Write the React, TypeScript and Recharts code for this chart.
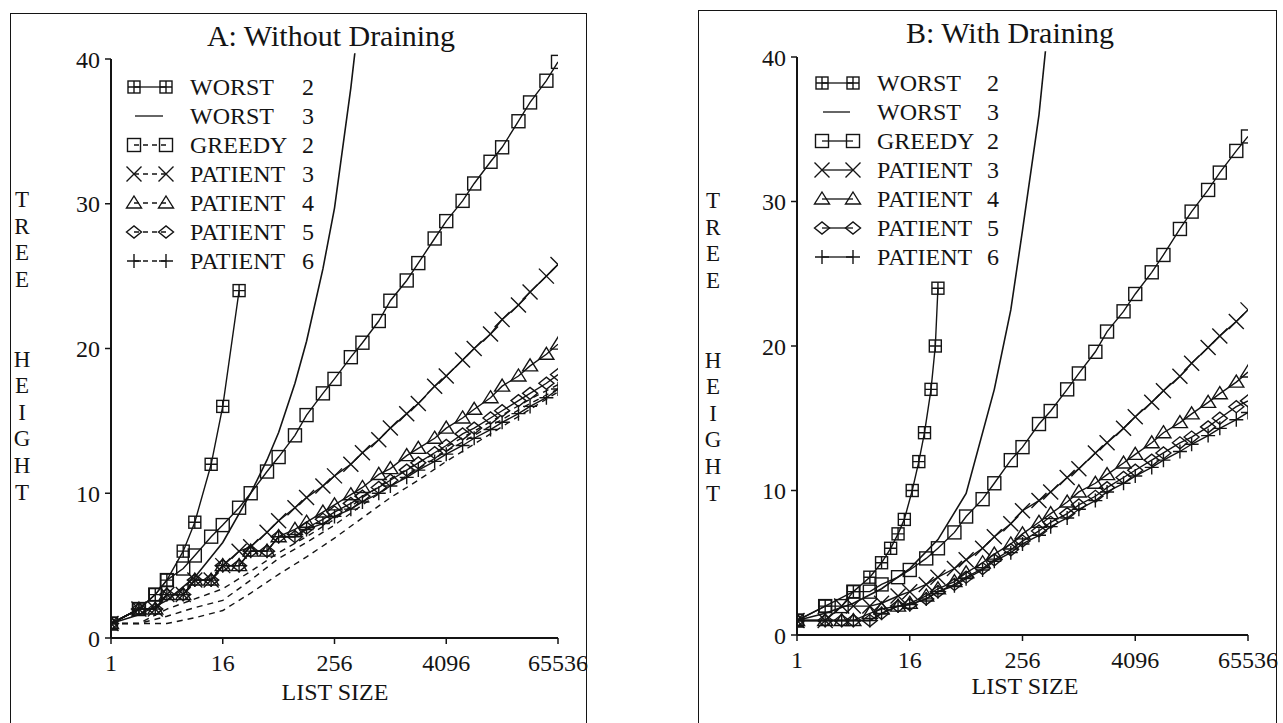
import React from "react";
import { LineChart, Line, XAxis, YAxis, ReferenceLine } from "recharts";

// list sizes (x values) - every power of two and 1.5x between
const listSizes = [1, 2, 3, 4, 6, 8, 12, 16, 24, 32, 48, 64, 96, 128, 192, 256, 384, 512, 768, 1024, 1536, 2048, 3072, 4096, 6144, 8192, 12288, 16384, 24576, 32768, 49152, 65536];
const sparseSizes = [1, 2, 4, 8, 16, 32, 64, 128, 256, 512, 1024, 2048, 4096, 8192, 16384, 32768, 65536];
const xTicks = [1, 16, 256, 4096, 65536];
const yTicks = [0, 10, 20, 30, 40];

// panel A: without draining
const worst2SizesA = [1, 2, 3, 4, 6, 8, 12, 16, 24];
const worst2A = [1, 2, 3, 4, 6, 8, 12, 16, 24];
const worst3SizesA = [1, 2, 4, 8, 16, 32, 48, 64, 96, 128, 192, 256, 384, 512];
const worst3A = [1, 1.6, 2.6, 4.2, 6.6, 10, 12.3, 14.2, 17.6, 20.5, 25.5, 29.7, 38, 45];
const greedy2A = [1, 2, 3, 4, 4.8, 5.7, 7, 7.8, 9, 10, 11.5, 12.5, 14, 15.4, 16.9, 17.9, 19.4, 20.4, 21.9, 23.3, 24.7, 25.9, 27.6, 28.8, 30.2, 31.4, 32.9, 33.9, 35.7, 37, 38.5, 39.8];
const patient3A = [1, 2, 2, 3, 3, 4, 4, 5, 6, 6.3, 7.3, 8.1, 9, 9.7, 10.5, 11.2, 12, 12.8, 13.7, 14.5, 15.5, 16.2, 17.4, 18.1, 19.2, 20, 21, 22, 23, 23.9, 25, 25.8];
const patient4A = [1, 2, 2, 3, 3, 4, 4, 5, 5, 6, 6, 7, 7.5, 8, 8.7, 9.2, 9.9, 10.4, 11.3, 11.7, 12.6, 13.1, 13.8, 14.5, 15.2, 15.8, 16.6, 17.4, 18.1, 18.8, 19.6, 20.3];
const patient5A = [1, 2, 2, 3, 3, 4, 4, 5, 5, 6, 6, 7, 7, 7.6, 8.2, 8.7, 9.3, 9.8, 10.4, 10.9, 11.6, 12.1, 12.8, 13.3, 14.1, 14.5, 15.2, 15.7, 16.4, 16.9, 17.6, 18.2];
const patient6A = [1, 2, 2, 3, 3, 4, 4, 5, 5, 6, 6, 7, 7, 7.5, 7.9, 8.4, 8.9, 9.4, 10, 10.5, 11.1, 11.6, 12.2, 12.7, 13.3, 13.8, 14.4, 14.9, 15.5, 16, 16.6, 17.2];
// dashed curves under the patient markers
const patient4DashA = [1, 1, 2, 2.7, 3.4, 4.6, 5.9, 7, 8.2, 9.7, 11, 12.1, 13.2, 14.3, 15.4, 16.5, 17.5];
const patient5DashA = [1, 1, 1.5, 2.1, 2.6, 4, 5.5, 6.6, 7.8, 9.2, 10.5, 11.7, 12.9, 14, 15.1, 16.2, 17.2];
const patient6DashA = [1, 1, 1, 1.4, 1.9, 3.1, 4.4, 5.6, 6.9, 8.3, 9.7, 10.9, 12.2, 13.4, 14.6, 15.8, 17];

// panel B: with draining
const worst2SizesB = [1, 2, 4, 6, 8, 10, 12, 14, 17, 20, 23, 27, 30, 32];
const worst2B = [1, 2, 3, 4, 5, 6, 7, 8, 10, 12, 14, 17, 20, 24];
const worst3SizesB = [1, 2, 4, 8, 16, 32, 64, 128, 192, 256, 384, 512];
const worst3B = [1, 1.5, 2.2, 3.2, 4.6, 6.6, 9.8, 17, 22.5, 28, 36, 44];
const greedy2B = [1, 2, 2, 3, 3, 3.5, 4, 4.5, 5.3, 6, 7.1, 8.2, 9.4, 10.5, 12.1, 13, 14.6, 15.5, 17, 18.1, 19.6, 21, 22.4, 23.6, 25.1, 26.3, 28.1, 29.3, 30.8, 32, 33.5, 34.5];
const patient3B = [1, 1, 2, 2, 2, 2.2, 2.7, 3, 3.5, 4, 4.6, 5.2, 6, 6.8, 7.7, 8.6, 9.3, 9.9, 10.9, 11.5, 12.6, 13.3, 14.3, 15.1, 16.1, 16.9, 17.9, 18.8, 19.9, 20.7, 21.7, 22.5];
const patient4B = [1, 1, 1, 1, 1.5, 1.8, 2, 2.2, 2.7, 3.2, 3.7, 4.3, 5, 5.6, 6.3, 7, 7.8, 8.4, 9.2, 9.9, 10.5, 11.1, 11.9, 12.5, 13.3, 14, 14.7, 15.3, 16.1, 16.7, 17.5, 18.2];
const patient5B = [1, 1, 1, 1, 1, 1.5, 2, 2.1, 2.5, 3, 3.5, 4, 4.6, 5.2, 5.9, 6.5, 7.2, 7.8, 8.4, 9, 9.6, 10.2, 10.9, 11.4, 12.1, 12.6, 13.3, 13.7, 14.4, 15, 15.8, 16.2];
const patient6B = [1, 1, 1, 1, 1, 1.5, 2, 2.1, 2.5, 3, 3.4, 3.9, 4.5, 5.1, 5.7, 6.3, 6.9, 7.5, 8.1, 8.7, 9.3, 9.9, 10.5, 11, 11.6, 12.1, 12.7, 13.2, 13.8, 14.3, 14.9, 15.4];

const legendNames = ["WORST", "WORST", "GREEDY", "PATIENT", "PATIENT", "PATIENT", "PATIENT"];
const legendNums = ["2", "3", "2", "3", "4", "5", "6"];
const heightLetters = ["T", "R", "E", "E", "", "", "H", "E", "I", "G", "H", "T"];

const ink = "#141414";
const serif = "'Liberation Serif', 'Times New Roman', serif";

type Kind = "sqplus" | "none" | "sq" | "x" | "tri" | "dia" | "plus";
const legendKinds: Kind[] = ["sqplus", "none", "sq", "x", "tri", "dia", "plus"];

type Series = { id: string; sizes: number[]; heights: number[]; kind: Kind; dash?: string; width?: number };

const rows = (sizes: number[], heights: number[]) => sizes.map((s, i) => ({ size: s, h: heights[i] }));

function Mark({ kind, cx, cy }: { kind: Kind; cx: number; cy: number }) {
  const s = { stroke: ink, strokeWidth: 1.4, fill: "none" };
  switch (kind) {
    case "sqplus":
      return (
        <g {...s}>
          <rect x={cx - 6} y={cy - 6} width={12} height={12} />
          <path d={`M${cx - 6},${cy}H${cx + 6}M${cx},${cy - 6}V${cy + 6}`} />
        </g>
      );
    case "sq":
      return <rect x={cx - 6.5} y={cy - 6.5} width={13} height={13} {...s} />;
    case "x":
      return <path d={`M${cx - 7.5},${cy - 7.5}L${cx + 7.5},${cy + 7.5}M${cx - 7.5},${cy + 7.5}L${cx + 7.5},${cy - 7.5}`} {...s} />;
    case "tri":
      return <path d={`M${cx},${cy - 7}L${cx + 7.5},${cy + 5}L${cx - 7.5},${cy + 5}Z`} {...s} />;
    case "dia":
      return <path d={`M${cx - 7.5},${cy}L${cx},${cy - 6}L${cx + 7.5},${cy}L${cx},${cy + 6}Z`} {...s} />;
    case "plus":
      return <path d={`M${cx - 7},${cy}H${cx + 7}M${cx},${cy - 7}V${cy + 7}`} {...s} />;
    default:
      return null;
  }
}

const dotOf = (kind: Kind, id: string) => (p: any) => (
  <g key={`${id}-${p.index}`}>{p.cx != null && p.cy != null ? <Mark kind={kind} cx={p.cx} cy={p.cy} /> : null}</g>
);

type Geo = {
  chartLeft: number; width: number; x0: number; x1: number; y40: number; y0: number;
  box: [number, number, number]; title: string; titleX: number; titleY: number;
  letterX: number; letterY: number; sizeX: number; sizeY: number;
  legY: number; legM1: number; legM2: number; legText: number; legNum: number; legDash: boolean;
};

const geoA: Geo = {
  chartLeft: 0, width: 600, x0: 111, x1: 558, y40: 59, y0: 638,
  box: [10, 13, 587], title: "A: Without Draining", titleX: 331, titleY: 46,
  letterX: 22, letterY: 199, sizeX: 335, sizeY: 700,
  legY: 87, legM1: 134, legM2: 166, legText: 190, legNum: 302, legDash: true,
};
const geoB: Geo = {
  chartLeft: 686, width: 600, x0: 797, x1: 1248, y40: 57, y0: 635,
  box: [698, 10, 1277], title: "B: With Draining", titleX: 1010, titleY: 43,
  letterX: 713, letterY: 200, sizeX: 1025, sizeY: 694,
  legY: 83, legM1: 822, legM2: 853, legText: 877, legNum: 987, legDash: false,
};

const seriesA: Series[] = [
  { id: "w2a", sizes: worst2SizesA, heights: worst2A, kind: "sqplus" },
  { id: "w3a", sizes: worst3SizesA, heights: worst3A, kind: "none", width: 1.6 },
  { id: "p4da", sizes: sparseSizes, heights: patient4DashA, kind: "none", dash: "6 5" },
  { id: "p5da", sizes: sparseSizes, heights: patient5DashA, kind: "none", dash: "6 5" },
  { id: "p6da", sizes: sparseSizes, heights: patient6DashA, kind: "none", dash: "6 5" },
  { id: "g2a", sizes: listSizes, heights: greedy2A, kind: "sq" },
  { id: "p3a", sizes: listSizes, heights: patient3A, kind: "x" },
  { id: "p4a", sizes: listSizes, heights: patient4A, kind: "tri" },
  { id: "p5a", sizes: listSizes, heights: patient5A, kind: "dia" },
  { id: "p6a", sizes: listSizes, heights: patient6A, kind: "plus" },
];
const seriesB: Series[] = [
  { id: "w2b", sizes: worst2SizesB, heights: worst2B, kind: "sqplus" },
  { id: "w3b", sizes: worst3SizesB, heights: worst3B, kind: "none", width: 1.6 },
  { id: "g2b", sizes: listSizes, heights: greedy2B, kind: "sq" },
  { id: "p3b", sizes: listSizes, heights: patient3B, kind: "x" },
  { id: "p4b", sizes: listSizes, heights: patient4B, kind: "tri" },
  { id: "p5b", sizes: listSizes, heights: patient5B, kind: "dia" },
  { id: "p6b", sizes: listSizes, heights: patient6B, kind: "plus" },
];

const yTop = 40.4;

function Panel({ g, series }: { g: Geo; series: Series[] }) {
  const unit = (g.y0 - g.y40) / 40;
  const plotTop = g.y40 - (yTop - 40) * unit;
  const yAxisW = 60;
  const xAxisH = 40;
  const margin = {
    left: g.x0 - g.chartLeft - yAxisW,
    right: g.chartLeft + g.width - g.x1,
    top: plotTop,
    bottom: 723 - g.y0 - xAxisH,
  };
  const tickStyle = { fill: ink, fontSize: 24, fontFamily: serif };
  return (
    <div style={{ position: "absolute", left: g.chartLeft, top: 0 }}>
      <LineChart width={g.width} height={723} margin={margin}>
        <XAxis
          type="number" dataKey="size" scale="log" domain={[1, 65536]} ticks={xTicks} interval={0}
          allowDataOverflow height={xAxisH} tick={tickStyle} tickSize={6} tickMargin={10}
          axisLine={{ stroke: ink, strokeWidth: 2 }} tickLine={{ stroke: ink, strokeWidth: 1.5 }}
        />
        <YAxis
          type="number" domain={[0, yTop]} ticks={yTicks} interval={0} allowDataOverflow width={yAxisW}
          tick={tickStyle} tickSize={6} tickMargin={5} axisLine={false} tickLine={{ stroke: ink, strokeWidth: 1.5 }}
        />
        <ReferenceLine segment={[{ x: 1, y: 0 }, { x: 1, y: 40 }]} stroke={ink} strokeWidth={2} />
        {series.map((s) => (
          <Line
            key={s.id}
            data={rows(s.sizes, s.heights)}
            dataKey="h"
            type="linear"
            stroke={ink}
            strokeWidth={s.width ?? 1.4}
            strokeDasharray={s.dash}
            dot={s.kind === "none" ? false : dotOf(s.kind, s.id)}
            activeDot={false}
            isAnimationActive={false}
          />
        ))}
      </LineChart>
    </div>
  );
}

function Decor({ g }: { g: Geo }) {
  const step = 29;
  return (
    <g>
      <text x={g.titleX} y={g.titleY} textAnchor="middle" fontSize={30} fontFamily={serif} fill={ink}>{g.title}</text>
      {heightLetters.map((ch, i) => (
        <text key={i} x={g.letterX} y={g.letterY + i * 26.6 + 8} textAnchor="middle" fontSize={23} fontFamily={serif} fill={ink}>{ch}</text>
      ))}
      <text x={g.sizeX} y={g.sizeY} textAnchor="middle" fontSize={24} fontFamily={serif} fill={ink}>LIST SIZE</text>
      {legendNames.map((name, i) => {
        const cy = g.legY + i * step;
        const kind = legendKinds[i];
        const dashed = g.legDash && i >= 2;
        return (
          <g key={i}>
            {kind === "none" ? (
              <line x1={g.legM1 + 1} x2={g.legM2 - 3} y1={cy} y2={cy} stroke={ink} strokeWidth={1.3} />
            ) : (
              <>
                <line x1={g.legM1} x2={g.legM2} y1={cy} y2={cy} stroke={ink} strokeWidth={1.3} strokeDasharray={dashed ? "5 4" : undefined} />
                <Mark kind={kind} cx={g.legM1} cy={cy} />
                <Mark kind={kind} cx={g.legM2} cy={cy} />
              </>
            )}
            <text x={g.legText} y={cy + 8} fontSize={24} fontFamily={serif} fill={ink}>{name}</text>
            <text x={g.legNum} y={cy + 8} fontSize={24} fontFamily={serif} fill={ink}>{legendNums[i]}</text>
          </g>
        );
      })}
    </g>
  );
}

export default function App() {
  const boxes = [geoA, geoB];
  return (
    <div style={{ position: "absolute", left: 0, top: 0, width: 1283, height: 723, overflow: "hidden", background: "#fff", fontFamily: serif }}>
      {boxes.map((g, i) => (
        <div key={i} style={{ position: "absolute", left: g.box[0], top: g.box[1], width: g.box[2] - g.box[0], height: 740, border: `1.5px solid ${ink}`, boxSizing: "border-box" }} />
      ))}
      <Panel g={geoA} series={seriesA} />
      <Panel g={geoB} series={seriesB} />
      <svg width={1283} height={723} style={{ position: "absolute", left: 0, top: 0, pointerEvents: "none" }}>
        <Decor g={geoA} />
        <Decor g={geoB} />
      </svg>
    </div>
  );
}
